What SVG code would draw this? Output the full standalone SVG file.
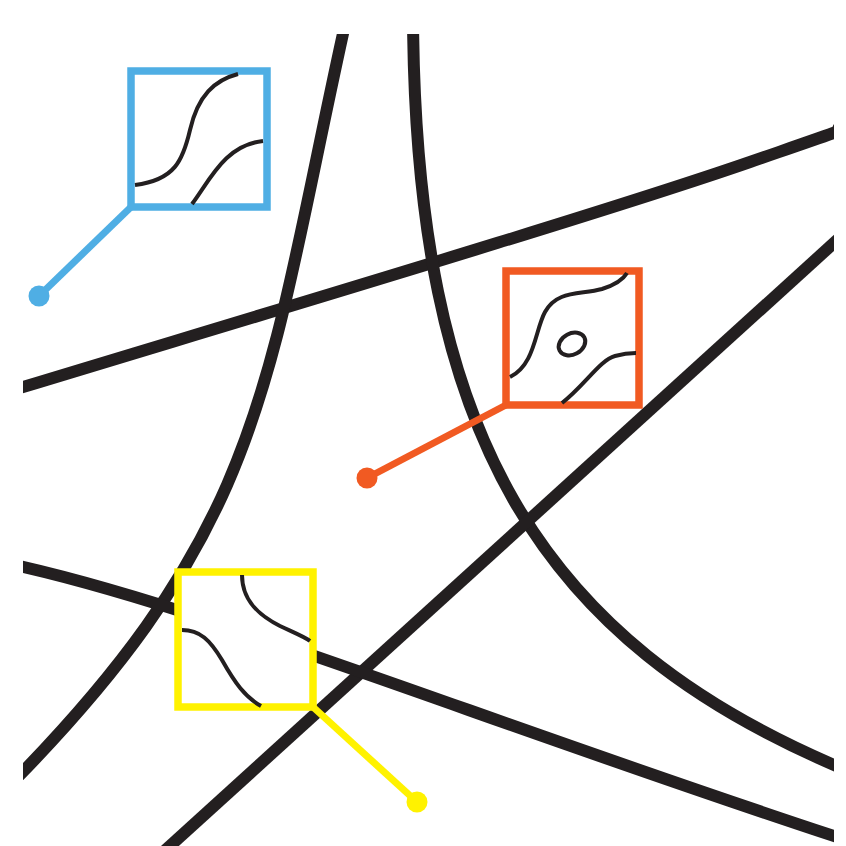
<svg xmlns="http://www.w3.org/2000/svg" width="846" height="846" viewBox="0 0 846 846">
  <defs>
    <clipPath id="frame"><rect x="23" y="34" width="811" height="812"/></clipPath>
    <style>
      .road{fill:none;stroke:#231F20;stroke-width:12}
      .thin{fill:none;stroke:#231F20;stroke-width:4;stroke-linecap:butt}
      .box{fill:#fff;stroke-width:7.5}
      .lead{fill:none;stroke-width:7}
      .blue{stroke:#4FAEE4}
      .orange{stroke:#F15A22}
      .yellow{stroke:#FFF200}
    </style>
  </defs>
  <rect width="846" height="846" fill="#fff"/>
  <g id="roads" clip-path="url(#frame)">
    <path class="road" d="M10,391 C250,318 600,214 750,162 S815,140 846,122"/>
    <path class="road" d="M346,20 C266,380 270,520 13,782"/>
    <path class="road" d="M413,20 C416,430 534,640 846,770"/>
    <path class="road" d="M160,855 L846,232"/>
    <path class="road" d="M10,564 C200,605 480,720 846,840"/>
  </g>
  <g id="callout-blue">
    <line class="lead blue" x1="131" y1="207" x2="39" y2="296"/>
    <circle cx="39" cy="296" r="10.5" fill="#4FAEE4"/>
    <rect class="box blue" x="131" y="71" width="136" height="136"/>
    <path class="thin" d="M135,185 C175,180 183,160 190,130 C198,95 215,80 238,74"/>
    <path class="thin" d="M192,204 C210,180 225,145 263,141"/>
  </g>
  <g id="callout-orange">
    <line class="lead orange" x1="506" y1="405" x2="367" y2="478"/>
    <circle cx="367" cy="478" r="10.5" fill="#F15A22"/>
    <rect class="box orange" x="506" y="271" width="133" height="134"/>
    <path class="thin" d="M510,377 C535,365 535,330 545,312 C557,290 580,295 602,289 C618,284 624,278 627,273"/>
    <path class="thin" d="M562,403 C585,385 600,360 615,356 C622,354 630,353 636,353"/>
    <ellipse class="thin" cx="572" cy="344" rx="14" ry="10.5" transform="rotate(-28 572 344)"/>
  </g>
  <g id="callout-yellow">
    <line class="lead yellow" x1="313" y1="707" x2="417" y2="802"/>
    <circle cx="417" cy="802" r="10.5" fill="#FFF200"/>
    <rect class="box yellow" x="178" y="572" width="135" height="135"/>
    <path class="thin" d="M242,575 C242,600 258,615 280,626 C295,633 305,637 310,641"/>
    <path class="thin" d="M182,630 C200,630 210,640 222,660 C235,683 245,697 261,706"/>
  </g>
</svg>
